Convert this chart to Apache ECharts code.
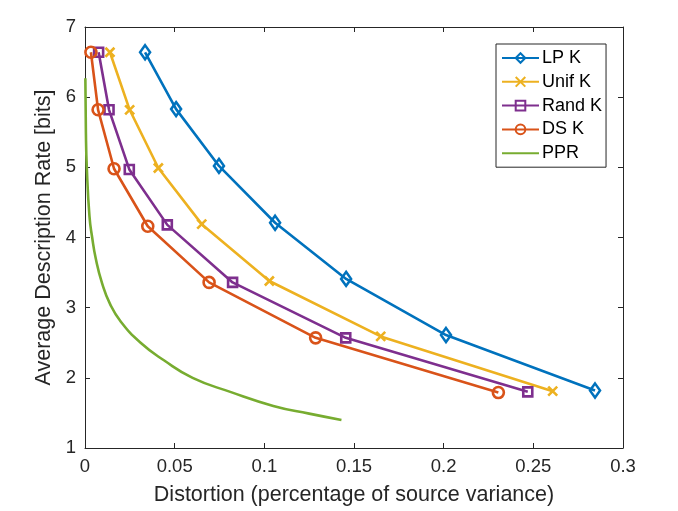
<!DOCTYPE html>
<html><head><meta charset="utf-8">
<script src="https://cdn.jsdelivr.net/npm/echarts@6/dist/echarts.min.js"></script>
<style>html,body{margin:0;padding:0;background:#fff}#c{width:678px;height:511px}</style>
</head><body><div id="c"></div>
<script>
const lpK   = [[0.0335,6.64],[0.0508,5.83],[0.0747,5.02],[0.106,4.21],[0.1456,3.41],[0.2013,2.61],[0.2844,1.82]];
const unifK = [[0.0139,6.64],[0.0249,5.82],[0.0409,4.99],[0.0651,4.19],[0.1028,3.38],[0.1649,2.59],[0.2608,1.81]];
const randK = [[0.0076,6.64],[0.0134,5.82],[0.0247,4.97],[0.0459,4.18],[0.0823,3.36],[0.1454,2.57],[0.2469,1.80]];
const dsK   = [[0.0033,6.64],[0.0073,5.82],[0.0162,4.98],[0.0350,4.16],[0.0692,3.36],[0.1286,2.57],[0.2305,1.79]];
const ppr   = [[0.0002,6.27],[0.0005,5.5],[0.0010,5.0],[0.0025,4.3],[0.004,4.0],[0.006,3.7],[0.0095,3.35],[0.0140,3.05],[0.0200,2.8],[0.031,2.5],[0.044,2.25],[0.060,2.0],[0.081,1.8],[0.105,1.6],[0.125,1.49],[0.143,1.40]];
const xTicks = [0,0.05,0.1,0.15,0.2,0.25,0.3];
const yTicks = [1,2,3,4,5,6,7];

const FONT = 'Liberation Sans, Arial, Helvetica, sans-serif';
const AX = '#262626';
const chart = echarts.init(document.getElementById('c'));
function axisCommon(show){
  return {
    axisLine:{show:true,onZero:false,lineStyle:{color:AX,width:1}},
    axisTick:{show:true,inside:true,length:5,lineStyle:{color:AX}},
    axisLabel:{show:show,color:AX,fontFamily:FONT,fontSize:18},
    splitLine:{show:false}
  };
}
function ser(name,data,color,symbol,size){
  return {name,type:'line',data,color,symbol,symbolSize:size,showSymbol:true,
    lineStyle:{width:2.6,color},
    itemStyle:{color:'rgba(255,255,255,0)',borderColor:color,borderWidth:2.6},
    emphasis:{disabled:true},z:3};
}
chart.setOption({
  animation:false,
  grid:{left:85,right:55,top:27,bottom:63},
  xAxis:[
    Object.assign({type:'value',min:0,max:0.3,interval:0.05,position:'bottom',
      name:'Distortion (percentage of source variance)',nameLocation:'middle',nameGap:36,
      nameTextStyle:{color:AX,fontFamily:FONT,fontSize:21.5}},axisCommon(true),
      {axisLabel:{color:AX,fontFamily:FONT,fontSize:18.5,margin:9,formatter:v=>xTicks.includes(+v.toFixed(2))?String(+v.toFixed(2)):''}}),
    Object.assign({type:'value',min:0,max:0.3,interval:0.05,position:'top'},axisCommon(false))
  ],
  yAxis:[
    Object.assign({type:'value',min:1,max:7,interval:1,position:'left',
      name:'Average Description Rate [bits]',nameLocation:'middle',nameGap:30,
      nameTextStyle:{color:AX,fontFamily:FONT,fontSize:21.5}},axisCommon(true),
      {axisLabel:{color:AX,fontFamily:FONT,fontSize:18.5,margin:9,formatter:v=>yTicks.includes(v)?String(v):''}}),
    Object.assign({type:'value',min:1,max:7,interval:1,position:'right'},axisCommon(false))
  ],
  legend:{
    orient:'vertical',left:496,top:44,width:111,
    backgroundColor:'#fff',borderColor:'#262626',borderWidth:1,
    padding:[5,4,5,5],itemWidth:37,itemHeight:12,itemGap:5.8,
    textStyle:{color:'#000',fontFamily:FONT,fontSize:18,padding:[0,0,0,-2]},
    data:['LP K','Unif K','Rand K','DS K',{name:'PPR',itemStyle:{opacity:0}}]
  },
  series:[
    ser('LP K',lpK,'#0072BD','diamond',[10,14]),
    ser('Unif K',unifK,'#EDB120','path://M0,0L10,10M10,0L0,10',9),
    ser('Rand K',randK,'#7E2F8E','rect',9),
    ser('DS K',dsK,'#D95319','circle',11),
    {name:'PPR',type:'line',data:ppr,color:'#77AC30',symbol:'none',smooth:true,
      lineStyle:{width:2.6,color:'#77AC30'},emphasis:{disabled:true},z:2}
  ]
});
</script></body></html>
